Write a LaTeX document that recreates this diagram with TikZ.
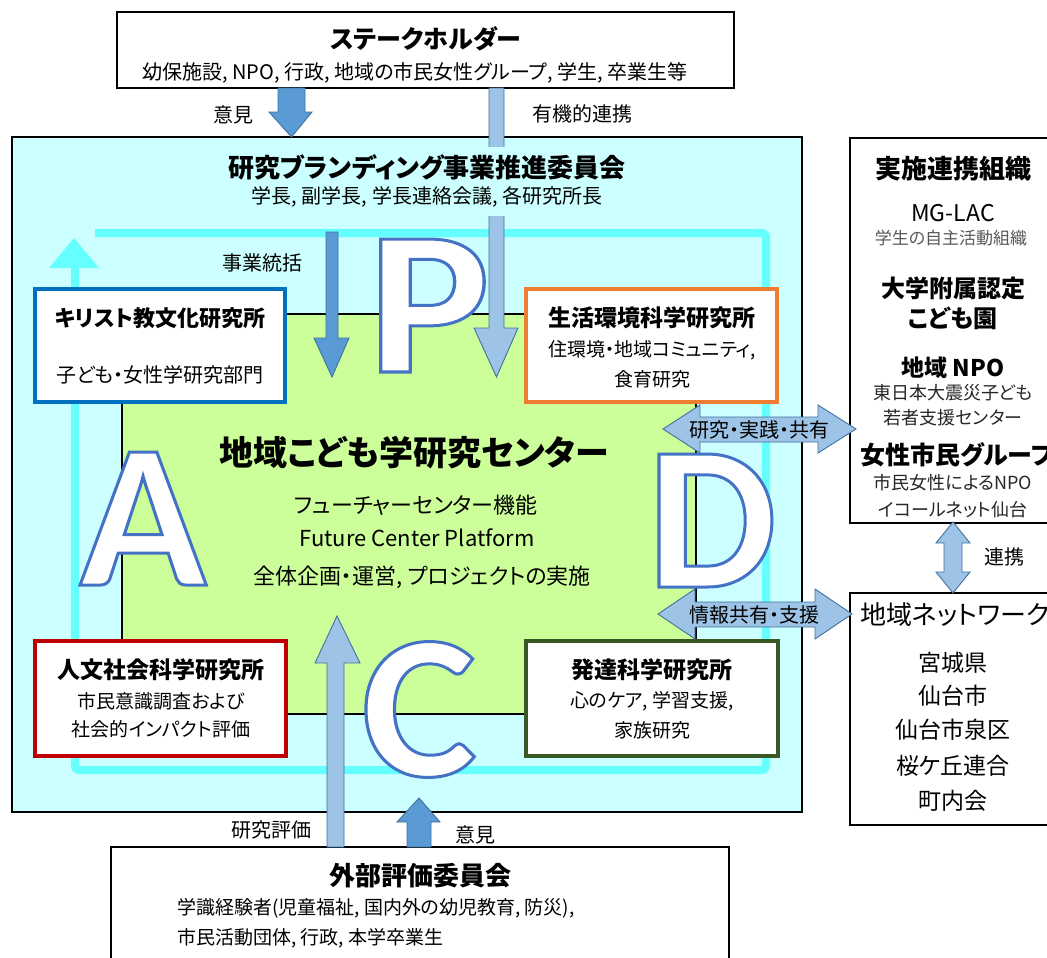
\documentclass[tikz,border=0pt]{standalone}
\usepackage{fontspec}
\setmainfont{Noto Sans CJK JP}[RawFeature=+palt]
\newfontfamily\letterfont{Carlito}
\definecolor{bgcyan}{HTML}{CCFFFF}
\definecolor{loopc}{HTML}{66FFFF}
\definecolor{ctrgreen}{HTML}{CCFF99}
\definecolor{arrdark}{HTML}{5B9BD5}
\definecolor{arrlight}{HTML}{9DC3E6}
\definecolor{arredge}{HTML}{41719C}
\definecolor{ltrblue}{HTML}{4472C4}
\definecolor{kblue}{HTML}{0070C0}
\definecolor{korange}{HTML}{ED7D31}
\definecolor{kred}{HTML}{C00000}
\definecolor{kgreen}{HTML}{385723}
\newcommand\fsz[1]{\fontsize{#1}{#1}\selectfont}
% outlined big letter: x, y (baseline), letter, node name, horizontal scale
\newcommand\bigltr[5]{%
  \begin{scope}[shift={(#1,#2)}, xscale=#5]
  \node[font=\letterfont\bfseries\fsz{205}, text=white, anchor=base, inner sep=0pt, transform shape] (#4) at (0,0)
    {\special{pdf:literal direct 2 Tr 3 w 0.267 0.447 0.769 RG}#3\special{pdf:literal direct 0 Tr 1 w}};
  \end{scope}}
\tikzset{
  frame/.style={draw=black, line width=1.6pt, fill=white, inner sep=0pt, outer sep=0pt},
  inst/.style={line width=4pt, fill=white, inner sep=0pt, outer sep=0pt},
  darkarrow/.style={fill=arrdark, draw=arredge, line width=0.9pt},
  lightarrow/.style={fill=arrlight, draw=arredge, line width=0.9pt},
  ttl/.style={font=\bfseries\fsz{#1}, inner sep=0pt},
  txt/.style={font=\fsz{#1}, inner sep=0pt},
}
\begin{document}
\begin{tikzpicture}[x=1pt,y=-1pt]
\useasboundingbox (0,0) rectangle (1047,958);
\fill[white] (0,0) rectangle (1047,958);

% main light-cyan box
\node[draw=black, line width=1.2pt, fill=bgcyan, inner sep=0pt, outer sep=0pt,
      minimum width=790, minimum height=675] (main) at (407,474.5) {};

% PDCA loop
\draw[loopc, line width=8pt, rounded corners=4pt]
  (95,233) -- (766,233) -- (766,770) -- (75,770) -- (75,266);
\fill[loopc] (49,268) -- (99,268) -- (74,238) -- cycle;

% centre box
\node[draw=black, line width=1.2pt, fill=ctrgreen, inner sep=0pt, outer sep=0pt,
      minimum width=574, minimum height=400] (center) at (409,514) {};

% stakeholder box
\node[frame, minimum width=617, minimum height=76] (stake) at (425.5,50) {};
\node[ttl=25] (stakeT) at (426,39) {ステークホルダー};
\node[txt=20] (stakeS) at (415,73) {幼保施設, NPO, 行政, 地域の市民女性グループ, 学生, 卒業生等};

% arrows from stakeholders
\draw[darkarrow] (278,88) -- (278,112) -- (269,112) -- (291.5,137) -- (312,112) -- (305,112) -- (305,88) -- cycle;
\node[txt=20] (lblIken1) at (233,115) {意見};
\draw[lightarrow] (489,88) -- (489,328) -- (474,328) -- (496.5,377) -- (518,328) -- (504,328) -- (504,88) -- cycle;
\node[txt=20] (lblYuki) at (582,114) {有機的連携};

% committee title (covers the bar)
\fill[bgcyan] (484,147) rectangle (509,216);
\node[ttl=26] (comT) at (427,167) {研究ブランディング事業推進委員会};
\node[txt=20] (comS) at (427,197) {学長, 副学長, 学長連絡会議, 各研究所長};

% jigyo tokatsu arrow
\draw[darkarrow] (326,232) -- (326,338) -- (314,338) -- (332,377) -- (349,338) -- (338,338) -- (338,232) -- cycle;
\node[txt=20] (lblTokatsu) at (262,263) {事業統括};

% institutes
\node[inst, draw=kblue, minimum width=250, minimum height=113] (kiri) at (160,345.5) {};
\node[ttl=22] (kiriT) at (160,318) {キリスト教文化研究所};
\node[txt=20] (kiriS) at (160,375) {子ども・女性学研究部門};

\node[inst, draw=korange, minimum width=251, minimum height=113] (seik) at (651.5,345.5) {};
\node[ttl=23] (seikT) at (652,318) {生活環境科学研究所};
\node[txt=19] (seikS1) at (652,350) {住環境・地域コミュニティ,};
\node[txt=19] (seikS2) at (652,379) {食育研究};

\node[inst, draw=kred, minimum width=251, minimum height=115] (jinb) at (160.5,698.5) {};
\node[ttl=23] (jinbT) at (161,670) {人文社会科学研究所};
\node[txt=19] (jinbS1) at (161,701) {市民意識調査および};
\node[txt=19] (jinbS2) at (161,729) {社会的インパクト評価};

\node[inst, draw=kgreen, minimum width=252, minimum height=115] (hatt) at (652,698.5) {};
\node[ttl=23] (hattT) at (652,670) {発達科学研究所};
\node[txt=19] (hattS1) at (652,701) {心のケア, 学習支援,};
\node[txt=19] (hattS2) at (652,730) {家族研究};

% centre texts
\node[ttl=34] (ctrT) at (414,453) {地域こども学研究センター};
\node[txt=22] (ctr1) at (416,505) {フューチャーセンター機能};
\node[txt=22] (ctr2) at (417,538) {Future Center Platform};
\node[txt=22] (ctr3) at (422,577) {全体企画・運営, プロジェクトの実施};

% right column boxes
\node[draw=black, line width=1.4pt, fill=white, inner sep=0pt, minimum width=212, minimum height=385] (impl) at (956,330.5) {};
\node[ttl=26] (implT) at (953,169) {実施連携組織};
\node[txt=23] (mglac) at (953,213) {MG-LAC};
\node[txt=17, text=black!65] (mglacS) at (951,238) {学生の自主活動組織};
\node[ttl=24] (kodomo1) at (953,288) {大学附属認定};
\node[ttl=24] (kodomo2) at (953,318) {こども園};
\node[ttl=23] (npo) at (953,368) {地域 NPO};
\node[txt=18, text=black!85] (npoS1) at (953,393) {東日本大震災子ども};
\node[txt=18, text=black!85] (npoS2) at (953,418) {若者支援センター};
\node[ttl=25, anchor=west] (josei) at (860,455) {女性市民グループ};
\node[txt=18, text=black!85] (joseiS1) at (953,483) {市民女性によるNPO};
\node[txt=18, text=black!85] (joseiS2) at (953,510) {イコールネット仙台};

\node[draw=black, line width=1.4pt, fill=white, inner sep=0pt, minimum width=212, minimum height=232] (net) at (956,709) {};
\node[txt=26, anchor=west] (netT) at (860,615) {地域ネットワーク};
\node[txt=23] (net1) at (953,663) {宮城県};
\node[txt=23] (net2) at (953,696) {仙台市};
\node[txt=23] (net3) at (953,730) {仙台市泉区};
\node[txt=23] (net4) at (953,766) {桜ケ丘連合};
\node[txt=23] (net5) at (953,801) {町内会};

% renkei double arrow
\draw[lightarrow] (953,522) -- (970,543) -- (962,543) -- (962,572) -- (970,572) -- (953,593)
   -- (936,572) -- (944,572) -- (944,543) -- (936,543) -- cycle;
\node[txt=20] (lblRenkei) at (1004,557) {連携};

% big PDCA letters (white fill, blue outline)
\bigltr{429}{372}{P}{ltrP}{1.12}
\bigltr{143}{585}{A}{ltrA}{1.02}
\bigltr{712}{587}{D}{ltrD}{1.0}
\bigltr{419}{776}{C}{ltrC}{1.06}

% horizontal double arrows
\draw[lightarrow] (663,429) -- (700,405) -- (700,417) -- (818,417) -- (818,405) -- (856,429)
   -- (818,453) -- (818,442) -- (700,442) -- (700,453) -- cycle;
\node[txt=20] (lblKenkyu) at (759,430) {研究・実践・共有};
\draw[lightarrow] (658,614) -- (695,589) -- (695,602) -- (815,602) -- (815,589) -- (852,614)
   -- (815,639) -- (815,627) -- (695,627) -- (695,639) -- cycle;
\node[txt=20] (lblJoho) at (754,615) {情報共有・支援};

% external evaluation box
\node[frame, minimum width=618, minimum height=140] (ext) at (420,917) {};
\node[ttl=26] (extT) at (420,876) {外部評価委員会};
\node[txt=19, anchor=west] (extS1) at (177,908) {学識経験者(児童福祉, 国内外の幼児教育, 防災),};
\node[txt=19, anchor=west] (extS2) at (177,938) {市民活動団体, 行政, 本学卒業生};

% arrows from external committee
\draw[lightarrow] (327,847) -- (327,663) -- (315,663) -- (337,616) -- (360,663) -- (344,663) -- (344,847) -- cycle;
\node[txt=20] (lblHyoka) at (271,830) {研究評価};
\draw[darkarrow] (407,847) -- (407,822) -- (397,822) -- (419,798) -- (440,822) -- (431,822) -- (431,847) -- cycle;
\node[txt=20] (lblIken2) at (475,835) {意見};
\end{tikzpicture}
\end{document}
